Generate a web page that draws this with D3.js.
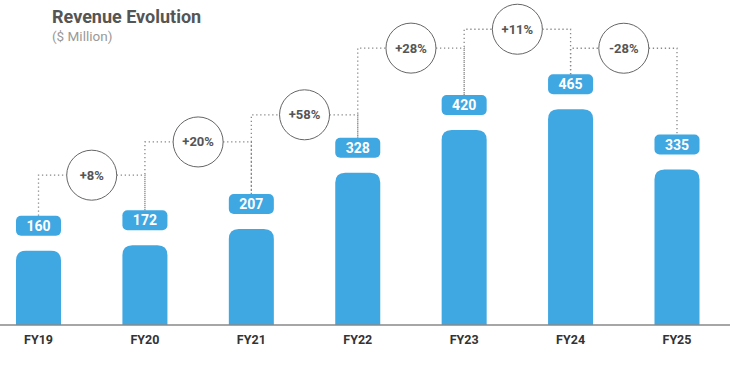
<!DOCTYPE html>
<html>
<head>
<meta charset="utf-8">
<script src="https://cdn.jsdelivr.net/npm/d3@7"></script>
<style>
  body { margin: 0; background: #fff; }
  svg text { font-family: Roboto, "DejaVu Sans", sans-serif; }
</style>
</head>
<body>
<div id="chart"></div>
<script>
// data
var years = ["FY19", "FY20", "FY21", "FY22", "FY23", "FY24", "FY25"]
var revenue = [160, 172, 207, 328, 420, 465, 335]
var changeLabels = ["+8%", "+20%", "+58%", "+28%", "+11%", "-28%"]

// layout: how far each growth bubble sits above the higher of its two labels
var bubbleLift = [35, 52, 23, 47, 45, 26]

var width = 737, height = 365
var baseY = 325
var blue = "#3fa7e2"

var svg = d3.select("#chart").append("svg")
    .attr("width", width).attr("height", height)

var xScale = d3.scaleBand()
    .domain(years)
    .range([16, 699.5])
    .paddingInner(0.577)
    .paddingOuter(0)

var yScale = d3.scaleLinear()
    .domain([0, 500])
    .range([baseY, baseY - 232])

var data = years.map(function (y, i) { return {year: y, value: revenue[i]} })

// title
svg.append("text")
    .attr("x", 52).attr("y", 23)
    .attr("font-size", 18).attr("font-weight", 700)
    .attr("fill", "#555")
    .text("Revenue Evolution")
svg.append("text")
    .attr("x", 52).attr("y", 41)
    .attr("font-size", 13.5)
    .attr("fill", "#999")
    .text("($ Million)")

// bars with rounded top
function barPath(x, y, w, h, r) {
    return "M" + x + "," + (y + h) +
        "V" + (y + r) +
        "Q" + x + "," + y + " " + (x + r) + "," + y +
        "H" + (x + w - r) +
        "Q" + (x + w) + "," + y + " " + (x + w) + "," + (y + r) +
        "V" + (y + h) + "Z"
}

var bw = xScale.bandwidth()

svg.append("g").selectAll("path").data(data).enter().append("path")
    .attr("fill", blue)
    .attr("d", function (d) {
        var y = yScale(d.value)
        return barPath(xScale(d.year), y, bw, baseY - y, 10)
    })

// axis line + labels
var xAxis = d3.axisBottom(xScale).tickSize(0).tickPadding(10)
var ax = svg.append("g")
    .attr("transform", "translate(0," + baseY + ")")
    .call(xAxis)
ax.select(".domain").remove()
ax.append("line")
    .attr("x1", 0).attr("x2", 730)
    .attr("stroke", "#888").attr("stroke-width", 1.5)
ax.selectAll(".tick text")
    .attr("font-family", "Roboto, sans-serif")
    .attr("font-size", 12.5).attr("font-weight", 700)
    .attr("fill", "#333")

// value labels
var labH = 20, gap = 15
function labelTop(d) { return yScale(d.value) - gap - labH }
function cx(d) { return xScale(d.year) + bw / 2 }

var lab = svg.append("g").selectAll("g").data(data).enter().append("g")
lab.append("rect")
    .attr("x", function (d) { return xScale(d.year) })
    .attr("y", labelTop)
    .attr("width", bw).attr("height", labH)
    .attr("rx", 5)
    .attr("fill", blue)
lab.append("text")
    .attr("x", cx)
    .attr("y", function (d) { return labelTop(d) + labH / 2 + 5 })
    .attr("text-anchor", "middle")
    .attr("font-size", 14).attr("font-weight", 700)
    .attr("fill", "#fff")
    .text(function (d) { return d.value })

// growth bubbles with dotted brackets
var r = 25
var pairs = d3.pairs(data).map(function (p, i) {
    var top = Math.min(labelTop(p[0]), labelTop(p[1]))
    return {a: p[0], b: p[1], y: top - bubbleLift[i], label: changeLabels[i]}
})

var links = svg.append("g")
    .attr("fill", "none")
    .attr("stroke", "#888")
    .attr("stroke-width", 1.3)
    .attr("stroke-dasharray", "1.3,2.7")

var bub = svg.append("g")

pairs.forEach(function (p) {
    var x0 = cx(p.a), x1 = cx(p.b), mx = (x0 + x1) / 2
    links.append("path")
        .attr("d", "M" + x0 + "," + labelTop(p.a) + "V" + p.y + "H" + (mx - r))
    links.append("path")
        .attr("d", "M" + (mx + r) + "," + p.y + "H" + x1 + "V" + labelTop(p.b))
    bub.append("circle")
        .attr("cx", mx).attr("cy", p.y).attr("r", r)
        .attr("fill", "#fff").attr("stroke", "#666").attr("stroke-width", 1)
    bub.append("text")
        .attr("x", mx).attr("y", p.y + 4.5)
        .attr("text-anchor", "middle")
        .attr("font-size", 13).attr("font-weight", 700)
        .attr("fill", "#555")
        .text(p.label)
})
</script>
</body>
</html>
